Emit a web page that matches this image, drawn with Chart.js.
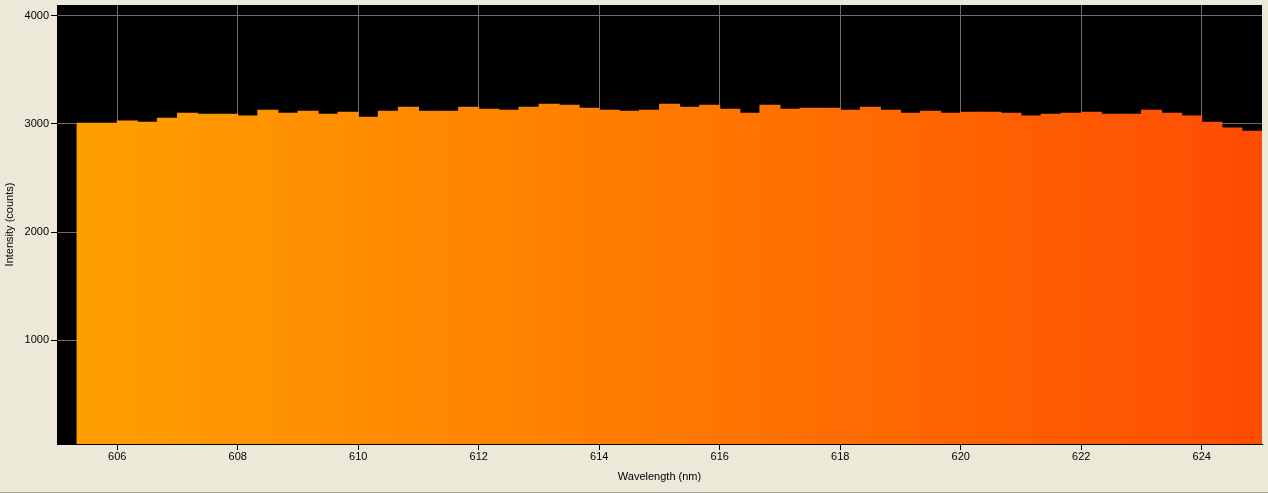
<!DOCTYPE html>
<html>
<head>
<meta charset="utf-8">
<script src="https://cdn.jsdelivr.net/npm/chart.js@4"></script>
<style>
  html, body { margin: 0; padding: 0; background: #ECE9D8; }
  #wrap { width: 1268px; height: 492px; border-bottom: 1px solid #ACA899; }
</style>
</head>
<body>
<div id="wrap"><canvas id="myChart"></canvas></div>
<script>
// bin centres (nm), each bin is 1/3 nm wide
let wavelength = [
  605.5, 605.833, 606.167, 606.5, 606.833, 607.167, 607.5, 607.833, 608.167,
  608.5, 608.833, 609.167, 609.5, 609.833, 610.167, 610.5, 610.833, 611.167,
  611.5, 611.833, 612.167, 612.5, 612.833, 613.167, 613.5, 613.833, 614.167,
  614.5, 614.833, 615.167, 615.5, 615.833, 616.167, 616.5, 616.833, 617.167,
  617.5, 617.833, 618.167, 618.5, 618.833, 619.167, 619.5, 619.833, 620.167,
  620.5, 620.833, 621.167, 621.5, 621.833, 622.167, 622.5, 622.833, 623.167,
  623.5, 623.833, 624.167, 624.5, 624.833
];
let intensity = [
  3012, 3012, 3031, 3021, 3058, 3104, 3095, 3095, 3077,
  3132, 3104, 3123, 3095, 3113, 3067, 3123, 3160, 3123,
  3123, 3160, 3141, 3132, 3160, 3187, 3178, 3150, 3132,
  3123, 3132, 3187, 3160, 3178, 3141, 3104, 3178, 3141,
  3150, 3150, 3132, 3160, 3132, 3104, 3123, 3104, 3113,
  3113, 3104, 3077, 3095, 3104, 3113, 3095, 3095, 3132,
  3104, 3077, 3021, 2966, 2938
];
let xTicks = [606, 608, 610, 612, 614, 616, 618, 620, 622, 624];
let yTicks = [1000, 2000, 3000, 4000];

let points = wavelength.map((w, i) => ({ x: w, y: intensity[i] }));

// black plot background
const plotBg = {
  id: "plotBg",
  beforeDraw(chart) {
    const a = chart.chartArea;
    chart.ctx.save();
    chart.ctx.fillStyle = "#000";
    chart.ctx.fillRect(a.left, a.top, a.right - a.left, a.bottom - a.top);
    chart.ctx.restore();
  }
};

let grad = null;
function barFill(context) {
  const chart = context.chart;
  const a = chart.chartArea;
  if (!a) return "#ff8000";
  if (!grad) {
    grad = chart.ctx.createLinearGradient(a.left, 0, a.right, 0);
    grad.addColorStop(0, "#ffa000");
    grad.addColorStop(0.5, "#ff7a00");
    grad.addColorStop(1, "#ff4c04");
  }
  return grad;
}

Chart.defaults.font.family = "'Liberation Sans', Arial, sans-serif";
Chart.defaults.font.size = 11;
Chart.defaults.color = "#000";

var ctx = document.getElementById("myChart").getContext("2d");
var chart1 = new Chart(ctx, {
  type: "bar",
  data: {
    datasets: [{
      data: points,
      backgroundColor: barFill,
      borderWidth: 0,
      barPercentage: 1.05,
      categoryPercentage: 1
    }]
  },
  options: {
    responsive: true,
    maintainAspectRatio: false,
    animation: false,
    layout: { padding: { top: 5, right: 6, left: 0, bottom: 0 } },
    plugins: { legend: { display: false }, tooltip: { enabled: false } },
    scales: {
      x: {
        type: "linear",
        offset: false,
        min: 605,
        max: 625,
        afterBuildTicks: (s) => { s.ticks = xTicks.map(v => ({ value: v })); },
        afterFit: (s) => { s.height = 48; s.paddingLeft = 0; s.paddingRight = 0; },
        grid: { offset: false, color: "#6e6e6e", tickColor: "#000", tickLength: 6 },
        border: { color: "#000" },
        ticks: { padding: 0, maxRotation: 0, callback: (v) => String(v) },
        title: { display: true, text: "Wavelength (nm)", padding: { top: 0, bottom: 8 } }
      },
      y: {
        min: 40,
        max: 4100,
        afterBuildTicks: (s) => { s.ticks = yTicks.map(v => ({ value: v })); },
        afterFit: (s) => { s.width = 57; s.paddingTop = 0; s.paddingBottom = 0; },
        grid: { color: "#6e6e6e", tickColor: "#000", tickLength: 6 },
        border: { color: "#000" },
        ticks: { padding: 2, callback: (v) => String(v) },
        title: { display: true, text: "Intensity (counts)", padding: { top: 3, bottom: 0 } }
      }
    }
  },
  plugins: [plotBg]
});
</script>
</body>
</html>
